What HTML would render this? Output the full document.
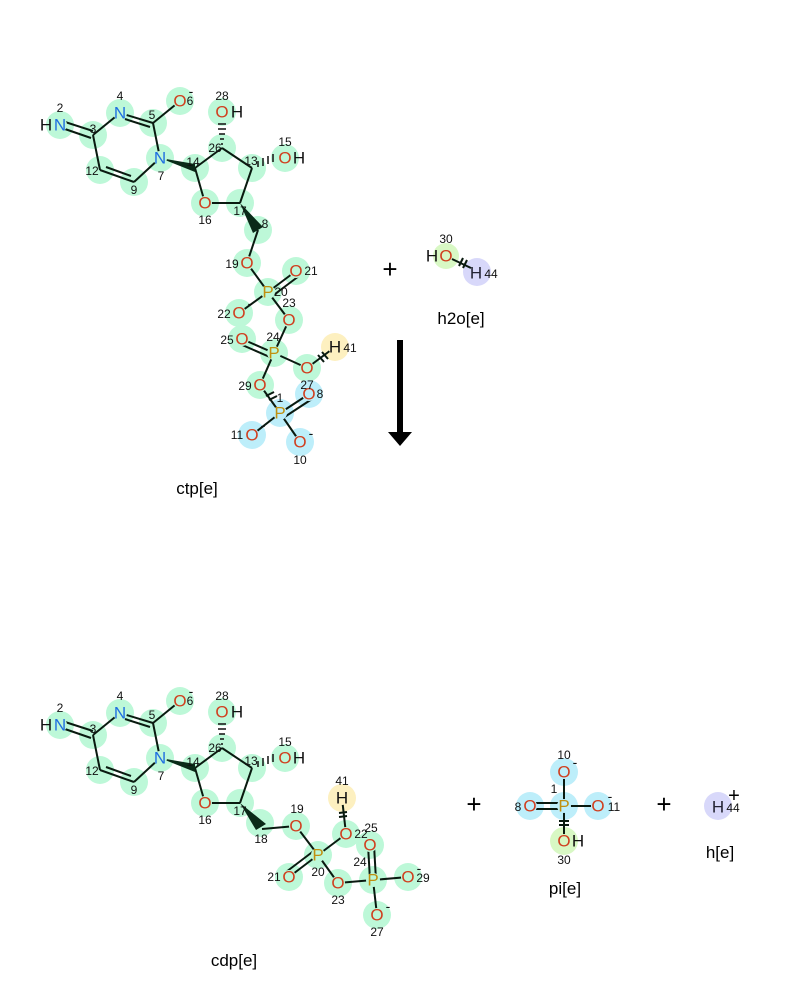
<!DOCTYPE html>
<html><head><meta charset="utf-8"><style>
html,body{margin:0;padding:0;background:#fff;}
svg{display:block;font-family:"Liberation Sans","DejaVu Sans",sans-serif;}
.g{fill:#bdf8d8}.b{fill:#bdeefa}.y{fill:#fdf0c0}.p{fill:#d8d8fa}.l{fill:#d8f8c4}
.bd{stroke:#0a1a10;stroke-width:2;fill:none}
.a{font-size:17px;text-anchor:middle;dominant-baseline:central}
.n{font-size:12px;text-anchor:middle;dominant-baseline:central;fill:#111}
.O{fill:#d04020}.N{fill:#2070e0}.P{fill:#c09010}.H{fill:#111}
.lab{font-size:17px;text-anchor:middle;fill:#000}
</style></head><body>
<svg width="800" height="1000" viewBox="0 0 800 1000">
<!-- ===== TOP CTP ===== -->
<g id="ctp">
<g class="g">
<circle cx="60" cy="125" r="14"/><circle cx="93" cy="135" r="14"/><circle cx="120" cy="113" r="14"/><circle cx="153" cy="123" r="14"/><circle cx="180" cy="101" r="14"/><circle cx="160" cy="158" r="14"/><circle cx="134" cy="182" r="14"/><circle cx="100" cy="170" r="14"/><circle cx="195" cy="168" r="14"/><circle cx="222" cy="148" r="14"/><circle cx="222" cy="112" r="14"/><circle cx="252" cy="168" r="14"/><circle cx="285" cy="158" r="14"/><circle cx="205" cy="203" r="14"/><circle cx="240" cy="203" r="14"/><circle cx="258" cy="230" r="14"/><circle cx="247" cy="263" r="14"/><circle cx="268" cy="292" r="14"/><circle cx="296" cy="271" r="14"/><circle cx="239" cy="313" r="14"/><circle cx="289" cy="320" r="14"/><circle cx="242" cy="339" r="14"/><circle cx="274" cy="353" r="14"/><circle cx="307" cy="368" r="14"/><circle cx="260" cy="385" r="14"/>
</g>
<circle class="y" cx="335" cy="347" r="14"/>
<g class="b"><circle cx="280" cy="413" r="14"/><circle cx="309" cy="394" r="14"/><circle cx="252" cy="435" r="14"/><circle cx="300" cy="442" r="14"/></g>
<g class="bd">
<line x1="62" y1="121" x2="93" y2="131"/><line x1="62" y1="128" x2="91" y2="138"/>
<line x1="93" y1="135" x2="120" y2="113"/>
<line x1="120" y1="113" x2="153" y2="123"/><line x1="125" y1="119" x2="150" y2="127"/>
<line x1="153" y1="123" x2="180" y2="101"/>
<line x1="153" y1="123" x2="160" y2="158"/>
<line x1="160" y1="158" x2="134" y2="182"/>
<line x1="134" y1="182" x2="100" y2="170"/><line x1="131" y1="176" x2="106" y2="167"/>
<line x1="100" y1="170" x2="93" y2="135"/>
<line x1="195" y1="168" x2="222" y2="148"/><line x1="222" y1="148" x2="252" y2="168"/>
<line x1="252" y1="168" x2="240" y2="203"/><line x1="240" y1="203" x2="205" y2="203"/><line x1="205" y1="203" x2="195" y2="168"/>
<line x1="258" y1="230" x2="247" y2="263"/><line x1="247" y1="263" x2="268" y2="292"/>
<line x1="268" y1="292" x2="296" y2="271"/><line x1="271" y1="297" x2="299" y2="276"/>
<line x1="268" y1="292" x2="239" y2="313"/><line x1="268" y1="292" x2="289" y2="320"/>
<line x1="289" y1="320" x2="274" y2="353"/>
<line x1="274" y1="353" x2="242" y2="339"/><line x1="272" y1="358" x2="240" y2="344"/>
<line x1="274" y1="353" x2="307" y2="368"/><line x1="307" y1="368" x2="335" y2="347"/>
<line x1="274" y1="353" x2="260" y2="385"/><line x1="260" y1="385" x2="280" y2="413"/>
<line x1="280" y1="413" x2="309" y2="394"/><line x1="283" y1="418" x2="312" y2="399"/>
<line x1="280" y1="413" x2="252" y2="435"/><line x1="280" y1="413" x2="300" y2="442"/>
<line x1="318" y1="355" x2="324" y2="362"/><line x1="322" y1="352" x2="328" y2="359"/>
<line x1="266" y1="396" x2="274" y2="392"/><line x1="269" y1="400" x2="277" y2="396"/>
</g>
<polygon points="160,158 195,164 195,172" fill="#0a2a18"/>
<polygon points="240,203 253,233 263,227" fill="#0a2a18"/>
<g stroke="#111" stroke-width="1.5">
<line x1="218" y1="124" x2="226" y2="124"/><line x1="218" y1="129" x2="226" y2="129"/><line x1="219" y1="134" x2="225" y2="134"/><line x1="220" y1="139" x2="224" y2="139"/><line x1="221" y1="144" x2="223" y2="144"/>
<line x1="273" y1="154" x2="273" y2="162"/><line x1="268" y1="156" x2="268" y2="164"/><line x1="263" y1="158" x2="263" y2="166"/><line x1="258" y1="161" x2="258" y2="167"/>
</g>
<g class="g"><circle cx="60" cy="125" r="7"/><circle cx="120" cy="113" r="7"/><circle cx="180" cy="101" r="7"/><circle cx="160" cy="158" r="7"/><circle cx="222" cy="112" r="7"/><circle cx="285" cy="158" r="7"/><circle cx="205" cy="203" r="7"/><circle cx="247" cy="263" r="7"/><circle cx="268" cy="292" r="7"/><circle cx="296" cy="271" r="7"/><circle cx="239" cy="313" r="7"/><circle cx="289" cy="320" r="7"/><circle cx="242" cy="339" r="7"/><circle cx="274" cy="353" r="7"/><circle cx="307" cy="368" r="7"/><circle cx="260" cy="385" r="7"/></g>
<circle class="y" cx="335" cy="347" r="7"/>
<g class="b"><circle cx="280" cy="413" r="7"/><circle cx="309" cy="394" r="7"/><circle cx="252" cy="435" r="7"/><circle cx="300" cy="442" r="7"/></g>
<text class="a H" x="46" y="125">H</text><text class="a N" x="60" y="125">N</text>
<text class="a N" x="120" y="113">N</text><text class="a O" x="180" y="101">O</text><text class="a H" x="191" y="91" style="font-size:14px">-</text>
<text class="a N" x="160" y="158">N</text>
<text class="a O" x="222" y="112">O</text><text class="a H" x="237" y="112">H</text>
<text class="a O" x="285" y="158">O</text><text class="a H" x="299" y="158">H</text>
<text class="a O" x="205" y="203">O</text><text class="a O" x="247" y="263">O</text>
<text class="a P" x="268" y="292">P</text><text class="a O" x="296" y="271">O</text>
<text class="a O" x="239" y="313">O</text><text class="a H" x="250" y="303" style="font-size:14px">-</text>
<text class="a O" x="289" y="320">O</text><text class="a O" x="242" y="339">O</text>
<text class="a P" x="274" y="353">P</text><text class="a O" x="307" y="368">O</text>
<text class="a H" x="335" y="347">H</text><text class="a O" x="260" y="385">O</text>
<text class="a P" x="280" y="413">P</text><text class="a O" x="309" y="394">O</text>
<text class="a O" x="252" y="435">O</text><text class="a H" x="263" y="425" style="font-size:14px">-</text>
<text class="a O" x="300" y="442">O</text><text class="a H" x="311" y="433" style="font-size:14px">-</text>
<text class="n" x="60" y="108">2</text><text class="n" x="93" y="129">3</text><text class="n" x="120" y="96">4</text><text class="n" x="152" y="115">5</text><text class="n" x="190" y="101">6</text><text class="n" x="161" y="176">7</text><text class="n" x="134" y="190">9</text><text class="n" x="92" y="171">12</text><text class="n" x="193" y="162">14</text><text class="n" x="215" y="148">26</text><text class="n" x="222" y="96">28</text><text class="n" x="251" y="161">13</text><text class="n" x="285" y="142">15</text><text class="n" x="205" y="220">16</text><text class="n" x="240" y="211">17</text><text class="n" x="265" y="224">8</text><text class="n" x="232" y="264">19</text><text class="n" x="311" y="271">21</text><text class="n" x="281" y="292">20</text><text class="n" x="289" y="303">23</text><text class="n" x="224" y="314">22</text><text class="n" x="227" y="340">25</text><text class="n" x="273" y="337">24</text><text class="n" x="350" y="348">41</text><text class="n" x="307" y="385">27</text><text class="n" x="245" y="386">29</text><text class="n" x="280" y="398">1</text><text class="n" x="320" y="394">8</text><text class="n" x="237" y="435">11</text><text class="n" x="300" y="460">10</text>
</g>
<text class="lab" x="197" y="494">ctp[e]</text>
<!-- h2o -->
<circle class="l" cx="446" cy="256" r="13"/><circle class="p" cx="477" cy="272" r="14"/>
<g class="bd"><line x1="452" y1="259" x2="471" y2="268"/><line x1="459" y1="266" x2="463" y2="258"/><line x1="463" y1="268" x2="467" y2="260"/></g>
<text class="a H" x="432" y="256">H</text><text class="a O" x="446" y="256">O</text><text class="n" x="446" y="239">30</text>
<text class="a H" x="476" y="273" style="fill:#223">H</text><text class="n" x="491" y="274">44</text>
<text class="lab" x="461" y="324">h2o[e]</text>
<text x="390" y="278" text-anchor="middle" font-size="26" fill="#000">+</text>
<rect x="397" y="340" width="6" height="92" fill="#000"/><polygon points="388,432 412,432 400,446" fill="#000"/>
<!-- ===== BOTTOM CDP ===== -->
<g transform="translate(0,600)">
<g class="g">
<circle cx="60" cy="125" r="14"/><circle cx="93" cy="135" r="14"/><circle cx="120" cy="113" r="14"/><circle cx="153" cy="123" r="14"/><circle cx="180" cy="101" r="14"/><circle cx="160" cy="158" r="14"/><circle cx="134" cy="182" r="14"/><circle cx="100" cy="170" r="14"/><circle cx="195" cy="168" r="14"/><circle cx="222" cy="148" r="14"/><circle cx="222" cy="112" r="14"/><circle cx="252" cy="168" r="14"/><circle cx="285" cy="158" r="14"/><circle cx="205" cy="203" r="14"/><circle cx="240" cy="203" r="14"/>
<circle cx="260" cy="223" r="14"/><circle cx="296" cy="226" r="14"/><circle cx="318" cy="255" r="14"/><circle cx="289" cy="277" r="14"/><circle cx="346" cy="234" r="14"/><circle cx="370" cy="245" r="14"/><circle cx="373" cy="280" r="14"/><circle cx="338" cy="283" r="14"/><circle cx="408" cy="277" r="14"/><circle cx="377" cy="315" r="14"/>
</g>
<circle class="y" cx="342" cy="198" r="14"/>
<g class="bd">
<line x1="62" y1="121" x2="93" y2="131"/><line x1="62" y1="128" x2="91" y2="138"/>
<line x1="93" y1="135" x2="120" y2="113"/>
<line x1="120" y1="113" x2="153" y2="123"/><line x1="125" y1="119" x2="150" y2="127"/>
<line x1="153" y1="123" x2="180" y2="101"/>
<line x1="153" y1="123" x2="160" y2="158"/>
<line x1="160" y1="158" x2="134" y2="182"/>
<line x1="134" y1="182" x2="100" y2="170"/><line x1="131" y1="176" x2="106" y2="167"/>
<line x1="100" y1="170" x2="93" y2="135"/>
<line x1="195" y1="168" x2="222" y2="148"/><line x1="222" y1="148" x2="252" y2="168"/>
<line x1="252" y1="168" x2="240" y2="203"/><line x1="240" y1="203" x2="205" y2="203"/><line x1="205" y1="203" x2="195" y2="168"/>
<line x1="262" y1="229" x2="296" y2="226"/><line x1="296" y1="226" x2="318" y2="255"/>
<line x1="318" y1="255" x2="289" y2="277"/><line x1="315" y1="250" x2="286" y2="272"/>
<line x1="318" y1="255" x2="346" y2="234"/><line x1="318" y1="255" x2="338" y2="283"/>
<line x1="346" y1="234" x2="342" y2="198"/>
<line x1="338" y1="283" x2="373" y2="280"/><line x1="373" y1="280" x2="408" y2="277"/><line x1="373" y1="280" x2="377" y2="315"/>
<line x1="370" y1="280" x2="368" y2="245"/><line x1="376" y1="280" x2="374" y2="245"/>
<line x1="339" y1="213" x2="347" y2="212"/><line x1="339" y1="217" x2="347" y2="216"/>
</g>
<polygon points="160,158 195,164 195,172" fill="#0a2a18"/>
<polygon points="240,203 256,230 266,224" fill="#0a2a18"/>
<g stroke="#111" stroke-width="1.5">
<line x1="218" y1="124" x2="226" y2="124"/><line x1="218" y1="129" x2="226" y2="129"/><line x1="219" y1="134" x2="225" y2="134"/><line x1="220" y1="139" x2="224" y2="139"/><line x1="221" y1="144" x2="223" y2="144"/>
<line x1="273" y1="154" x2="273" y2="162"/><line x1="268" y1="156" x2="268" y2="164"/><line x1="263" y1="158" x2="263" y2="166"/><line x1="258" y1="161" x2="258" y2="167"/>
</g>
<g class="g"><circle cx="60" cy="125" r="7"/><circle cx="120" cy="113" r="7"/><circle cx="180" cy="101" r="7"/><circle cx="160" cy="158" r="7"/><circle cx="222" cy="112" r="7"/><circle cx="285" cy="158" r="7"/><circle cx="205" cy="203" r="7"/><circle cx="296" cy="226" r="7"/><circle cx="318" cy="255" r="7"/><circle cx="289" cy="277" r="7"/><circle cx="346" cy="234" r="7"/><circle cx="370" cy="245" r="7"/><circle cx="373" cy="280" r="7"/><circle cx="338" cy="283" r="7"/><circle cx="408" cy="277" r="7"/><circle cx="377" cy="315" r="7"/></g>
<circle class="y" cx="342" cy="198" r="7"/>
<text class="a H" x="46" y="125">H</text><text class="a N" x="60" y="125">N</text>
<text class="a N" x="120" y="113">N</text><text class="a O" x="180" y="101">O</text><text class="a H" x="191" y="91" style="font-size:14px">-</text>
<text class="a N" x="160" y="158">N</text>
<text class="a O" x="222" y="112">O</text><text class="a H" x="237" y="112">H</text>
<text class="a O" x="285" y="158">O</text><text class="a H" x="299" y="158">H</text>
<text class="a O" x="205" y="203">O</text>
<text class="a O" x="296" y="226">O</text><text class="a P" x="318" y="255">P</text><text class="a O" x="289" y="277">O</text>
<text class="a O" x="346" y="234">O</text><text class="a H" x="342" y="198">H</text>
<text class="a O" x="370" y="245">O</text><text class="a P" x="373" y="280">P</text>
<text class="a O" x="338" y="283">O</text><text class="a O" x="408" y="277">O</text><text class="a H" x="419" y="268" style="font-size:14px">-</text>
<text class="a O" x="377" y="315">O</text><text class="a H" x="388" y="306" style="font-size:14px">-</text>
<text class="n" x="60" y="108">2</text><text class="n" x="93" y="129">3</text><text class="n" x="120" y="96">4</text><text class="n" x="152" y="115">5</text><text class="n" x="190" y="101">6</text><text class="n" x="161" y="176">7</text><text class="n" x="134" y="190">9</text><text class="n" x="92" y="171">12</text><text class="n" x="193" y="162">14</text><text class="n" x="215" y="148">26</text><text class="n" x="222" y="96">28</text><text class="n" x="251" y="161">13</text><text class="n" x="285" y="142">15</text><text class="n" x="205" y="220">16</text><text class="n" x="240" y="211">17</text><text class="n" x="261" y="239">18</text><text class="n" x="297" y="209">19</text><text class="n" x="318" y="272">20</text><text class="n" x="274" y="277">21</text><text class="n" x="361" y="234">22</text><text class="n" x="338" y="300">23</text><text class="n" x="360" y="262">24</text><text class="n" x="371" y="228">25</text><text class="n" x="377" y="332">27</text><text class="n" x="423" y="278">29</text><text class="n" x="342" y="181">41</text>
</g>
<text class="lab" x="234" y="966">cdp[e]</text>
<text x="474" y="813" text-anchor="middle" font-size="26" fill="#000">+</text>
<!-- pi -->
<g class="b"><circle cx="564" cy="772" r="14"/><circle cx="564" cy="806" r="14"/><circle cx="530" cy="806" r="14"/><circle cx="598" cy="806" r="14"/></g>
<circle class="l" cx="564" cy="841" r="14"/>
<g class="bd"><line x1="564" y1="772" x2="564" y2="841"/><line x1="530" y1="803" x2="564" y2="803"/><line x1="530" y1="809" x2="564" y2="809"/><line x1="564" y1="806" x2="598" y2="806"/>
<line x1="559" y1="821" x2="569" y2="821"/><line x1="559" y1="825" x2="569" y2="825"/></g>
<g class="b"><circle cx="564" cy="772" r="7"/><circle cx="564" cy="806" r="7"/><circle cx="530" cy="806" r="7"/><circle cx="598" cy="806" r="7"/></g>
<circle class="l" cx="564" cy="841" r="7"/>
<text class="a O" x="564" y="772">O</text><text class="a H" x="575" y="762" style="font-size:14px">-</text>
<text class="a P" x="564" y="806">P</text><text class="a O" x="530" y="806">O</text><text class="a O" x="598" y="806">O</text><text class="a H" x="610" y="796" style="font-size:14px">-</text>
<text class="a O" x="564" y="841">O</text><text class="a H" x="578" y="841">H</text>
<text class="n" x="564" y="755">10</text><text class="n" x="554" y="789">1</text><text class="n" x="518" y="807">8</text><text class="n" x="614" y="807">11</text><text class="n" x="564" y="860">30</text>
<text class="lab" x="565" y="894">pi[e]</text>
<text x="664" y="813" text-anchor="middle" font-size="26" fill="#000">+</text>
<circle class="p" cx="718" cy="806" r="14"/>
<text class="a H" x="718" y="807" style="fill:#223">H</text><text class="n" x="733" y="808">44</text>
<text x="734" y="802" text-anchor="middle" font-size="20" fill="#000">+</text>
<text class="lab" x="720" y="858">h[e]</text>
</svg>
</body></html>
